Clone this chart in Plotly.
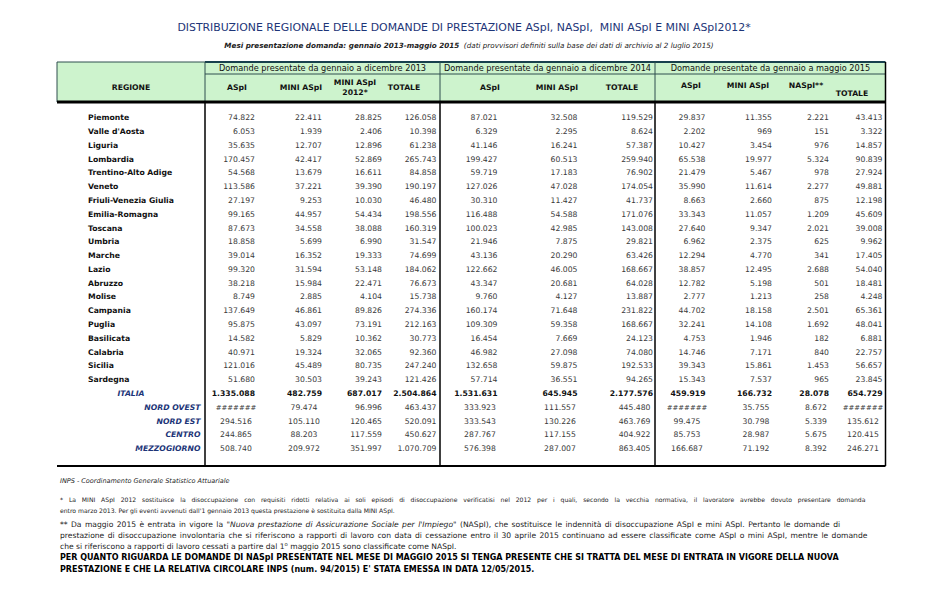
import plotly.graph_objects as go

# ---------------- data ----------------
row_labels = ["Piemonte", "Valle d'Aosta", "Liguria", "Lombardia", "Trentino-Alto Adige",
              "Veneto", "Friuli-Venezia Giulia", "Emilia-Romagna", "Toscana", "Umbria",
              "Marche", "Lazio", "Abruzzo", "Molise", "Campania", "Puglia", "Basilicata",
              "Calabria", "Sicilia", "Sardegna",
              "ITALIA", "NORD OVEST", "NORD EST", "CENTRO", "MEZZOGIORNO"]

aspi_2013 = [74822, 6053, 35635, 170457, 54568, 113586, 27197, 99165, 87673, 18858,
             39014, 99320, 38218, 8749, 137649, 95875, 14582, 40971, 121016, 51680,
             1335088, None, 294516, 244865, 508740]
mini_2013 = [22411, 1939, 12707, 42417, 13679, 37221, 9253, 44957, 34558, 5699,
             16352, 31594, 15984, 2885, 46861, 43097, 5829, 19324, 45489, 30503,
             482759, 79474, 105110, 88203, 209972]
mini2012_2013 = [28825, 2406, 12896, 52869, 16611, 39390, 10030, 54434, 38088, 6990,
                 19333, 53148, 22471, 4104, 89826, 73191, 10362, 32065, 80735, 39243,
                 687017, 96996, 120465, 117559, 351997]
tot_2013 = [126058, 10398, 61238, 265743, 84858, 190197, 46480, 198556, 160319, 31547,
            74699, 184062, 76673, 15738, 274336, 212163, 30773, 92360, 247240, 121426,
            2504864, 463437, 520091, 450627, 1070709]

aspi_2014 = [87021, 6329, 41146, 199427, 59719, 127026, 30310, 116488, 100023, 21946,
             43136, 122662, 43347, 9760, 160174, 109309, 16454, 46982, 132658, 57714,
             1531631, 333923, 333543, 287767, 576398]
mini_2014 = [32508, 2295, 16241, 60513, 17183, 47028, 11427, 54588, 42985, 7875,
             20290, 46005, 20681, 4127, 71648, 59358, 7669, 27098, 59875, 36551,
             645945, 111557, 130226, 117155, 287007]
tot_2014 = [119529, 8624, 57387, 259940, 76902, 174054, 41737, 171076, 143008, 29821,
            63426, 168667, 64028, 13887, 231822, 168667, 24123, 74080, 192533, 94265,
            2177576, 445480, 463769, 404922, 863405]

aspi_2015 = [29837, 2202, 10427, 65538, 21479, 35990, 8663, 33343, 27640, 6962,
             12294, 38857, 12782, 2777, 44702, 32241, 4753, 14746, 39343, 15343,
             459919, None, 99475, 85753, 166687]
mini_2015 = [11355, 969, 3454, 19977, 5467, 11614, 2660, 11057, 9347, 2375,
             4770, 12495, 5198, 1213, 18158, 14108, 1946, 7171, 15861, 7537,
             166732, 35755, 30798, 28987, 71192]
naspi_2015 = [2221, 151, 976, 5324, 978, 2277, 875, 1209, 2021, 625,
              341, 2688, 501, 258, 2501, 1692, 182, 840, 1453, 965,
              28078, 8672, 5339, 5675, 8392]
tot_2015 = [43413, 3322, 14857, 90839, 27924, 49881, 12198, 45609, 39008, 9962,
            17405, 54040, 18481, 4248, 65361, 48041, 6881, 22757, 56657, 23845,
            654729, None, 135612, 120415, 246271]

group_labels = ["Domande presentate da gennaio a dicembre 2013",
                "Domande presentate da gennaio a dicembre 2014",
                "Domande presentate da gennaio a maggio 2015"]
col_labels = ["ASpI", "MINI ASpI", "MINI ASpI<br>2012*", "TOTALE",
              "ASpI", "MINI ASpI", "TOTALE",
              "ASpI", "MINI ASpI", "NASpI**", "TOTALE"]

title_text = "DISTRIBUZIONE REGIONALE DELLE DOMANDE DI PRESTAZIONE ASpI, NASpI,  MINI ASpI E MINI ASpI2012*"
subtitle_text = ("<b><i>Mesi presentazione domanda: gennaio 2013-maggio 2015</i></b>"
                 "  <i>(dati provvisori definiti sulla base dei dati di archivio al 2 luglio 2015)</i>")
source_text = "<i>INPS - Coordinamento Generale Statistico Attuariale</i>"
note1_lines = [
    "* La MINI ASpI 2012 sostituisce la disoccupazione con requisiti ridotti relativa ai soli episodi di disoccupazione verificatisi nel 2012 per i quali, secondo la vecchia normativa, il lavoratore avrebbe dovuto presentare domanda",
    "entro marzo 2013. Per gli eventi avvenuti dall'1 gennaio 2013 questa prestazione è sostituita dalla MINI ASpI.",
]
note2_lines = [
    "** Da maggio 2015 è entrata in vigore la \"<i>Nuova prestazione di Assicurazione Sociale per l'Impiego</i>\" (NASpI), che sostituisce le indennità di disoccupazione ASpI e mini ASpI. Pertanto le domande di",
    "prestazione di disoccupazione involontaria che si riferiscono a rapporti di lavoro con data di cessazione entro il 30 aprile 2015 continuano ad essere classificate come ASpI o mini ASpI, mentre le domande",
    "che si riferiscono a rapporti di lavoro cessati a partire dal 1<sup>o</sup> maggio 2015 sono classificate come NASpI.",
]
bold_lines = [
    "PER QUANTO RIGUARDA LE DOMANDE DI NASpI PRESENTATE NEL MESE DI MAGGIO 2015 SI TENGA PRESENTE CHE SI TRATTA DEL MESE DI ENTRATA IN VIGORE DELLA NUOVA",
    "PRESTAZIONE E CHE LA RELATIVA CIRCOLARE INPS (num. 94/2015) E' STATA EMESSA IN DATA 12/05/2015.",
]

# ---------------- layout constants ----------------
W, H = 930, 592
BODY = 8  # default page margin of the html body
FONT = "DejaVu Sans"
NAVY = "#1d3578"
NUM_COLOR = "#3a3a3a"
GREEN = "#cdf3cd"
FS = 7.7

row_y0, row_pitch = 118.3, 13.79
n_regions = 20
tab_left, tab_right = 57, 885.5
hdr_top, hdr_mid, hdr_bot = 62, 74, 102
data_bot = 466
vlines = [205, 440, 655]

# (values, right x for normal rows, alignment for area rows, x for area rows)
columns = [
    (aspi_2013, 255, "c", 236),
    (mini_2013, 322, "c", 304),
    (mini2012_2013, 382, "r", 382),
    (tot_2013, 436.5, "r", 436.5),
    (aspi_2014, 497.5, "c", 480),
    (mini_2014, 577.5, "c", 560),
    (tot_2014, 653, "r", 650.5),
    (aspi_2015, 705.5, "c", 687),
    (mini_2015, 772, "c", 756),
    (naspi_2015, 829, "r", 827),
    (tot_2015, 882.5, "c", 863),
]
col_hdr_x = [237, 301, 355, 404, 490, 557, 622, 691, 748, 806, 852]
col_hdr_y = [88, 88, 88, 88, 88, 88, 88, 86, 86, 86, 94]
group_x = [322.5, 547.5, 770.5]


def fmt(v):
    if v is None:
        return "#######"
    return f"{v:,}".replace(",", ".")


def row_y(i):
    return row_y0 + i * row_pitch


fig = go.Figure()


def add_text(xs, ys, texts, pos, size, color, weight="normal", style="normal"):
    fig.add_trace(go.Scatter(
        x=xs, y=ys, text=texts, mode="text", textposition=pos,
        textfont=dict(family=FONT, size=size, color=color, weight=weight, style=style),
        hoverinfo="skip", showlegend=False, cliponaxis=False))


def spaced(txt, px):
    return f'<span style="word-spacing:{px}px">{txt}</span>'


# ---------------- shapes ----------------
shapes = []
shapes.append(dict(type="rect", x0=tab_left, x1=tab_right, y0=hdr_top, y1=hdr_bot,
                   fillcolor=GREEN, line=dict(width=0), layer="below"))
thin = dict(color="#2f4f4f", width=1)
shapes.append(dict(type="line", x0=tab_left, x1=vlines[0], y0=hdr_top, y1=hdr_top, line=thin))
shapes.append(dict(type="line", x0=vlines[0], x1=tab_right, y0=hdr_top, y1=hdr_top,
                   line=dict(color="#17404d", width=2)))
shapes.append(dict(type="line", x0=vlines[0], x1=tab_right, y0=hdr_mid, y1=hdr_mid, line=thin))
shapes.append(dict(type="line", x0=tab_left, x1=tab_left, y0=hdr_top, y1=hdr_bot, line=thin))
for vx in vlines:
    shapes.append(dict(type="line", x0=vx, x1=vx, y0=hdr_top, y1=hdr_bot, line=thin))
    shapes.append(dict(type="line", x0=vx, x1=vx, y0=hdr_bot, y1=data_bot,
                       line=dict(color="black", width=1.5)))
shapes.append(dict(type="line", x0=tab_right, x1=tab_right, y0=hdr_top, y1=data_bot,
                   line=dict(color="black", width=1.5)))
shapes.append(dict(type="line", x0=tab_left, x1=tab_right, y0=hdr_bot, y1=hdr_bot,
                   line=dict(color="black", width=3)))
shapes.append(dict(type="line", x0=tab_left, x1=tab_right, y0=data_bot, y1=data_bot,
                   line=dict(color="black", width=2)))

# ---------------- header text ----------------
add_text([464], [28], [title_text], "middle center", 10.9, NAVY)
add_text([469], [46], [subtitle_text], "middle center", 7.2, "#222222")
add_text([131], [88], ["REGIONE"], "middle center", FS, "#111111", weight="bold")
add_text(group_x, [68.5, 68.5, 68.5], group_labels, "middle center", 8.2, "#111111")
add_text(col_hdr_x, col_hdr_y, col_labels, "middle center", FS, "#111111", weight="bold")

# ---------------- row labels ----------------
add_text([88] * n_regions, [row_y(i) for i in range(n_regions)], row_labels[:n_regions],
         "middle right", FS, "#111111", weight="bold")
add_text([131], [row_y(n_regions)], [row_labels[n_regions]], "middle center", FS, NAVY,
         weight="bold", style="italic")
add_text([200.5] * 4, [row_y(i) for i in range(n_regions + 1, len(row_labels))],
         row_labels[n_regions + 1:], "middle left", FS, NAVY, weight="bold", style="italic")

# ---------------- numbers ----------------
for vals, xr, agg_al, agg_x in columns:
    ys = [row_y(i) for i in range(n_regions)]
    add_text([xr] * n_regions, ys, [fmt(v) for v in vals[:n_regions]], "middle left", FS, NUM_COLOR)
    add_text([xr], [row_y(n_regions)], [fmt(vals[n_regions])], "middle left", FS, "#111111",
             weight="bold")
    agg_vals = vals[n_regions + 1:]
    agg_y = [row_y(i) for i in range(n_regions + 1, len(vals))]
    for v, y in zip(agg_vals, agg_y):
        if v is None:
            add_text([agg_x], [y], [fmt(v)], "middle center", 6.9, NUM_COLOR, style="italic")
        else:
            pos = "middle center" if agg_al == "c" else "middle left"
            add_text([agg_x], [y], [fmt(v)], pos, FS, NUM_COLOR)

# ---------------- footnotes ----------------
add_text([60], [481], [source_text], "middle right", 6.5, "#222222")
add_text([60, 60], [500, 511], [spaced(note1_lines[0], 3.9), note1_lines[1]],
         "middle right", 6.1, "#222222")
add_text([60, 60, 60], [525, 536, 547],
         [spaced(note2_lines[0], 1.0), spaced(note2_lines[1], 1.0), note2_lines[2]],
         "middle right", 7.6, "#222222")
add_text([60, 60], [558, 570], bold_lines, "middle right", 8.0, "#000000", weight="bold")

fig.update_layout(
    width=W - BODY, height=H - BODY, margin=dict(l=0, r=0, t=0, b=0),
    paper_bgcolor="white", plot_bgcolor="white",
    xaxis=dict(range=[BODY, W], visible=False, fixedrange=True),
    yaxis=dict(range=[H, BODY], visible=False, fixedrange=True),
    shapes=shapes, showlegend=False,
)
fig.write_html("out.html")
